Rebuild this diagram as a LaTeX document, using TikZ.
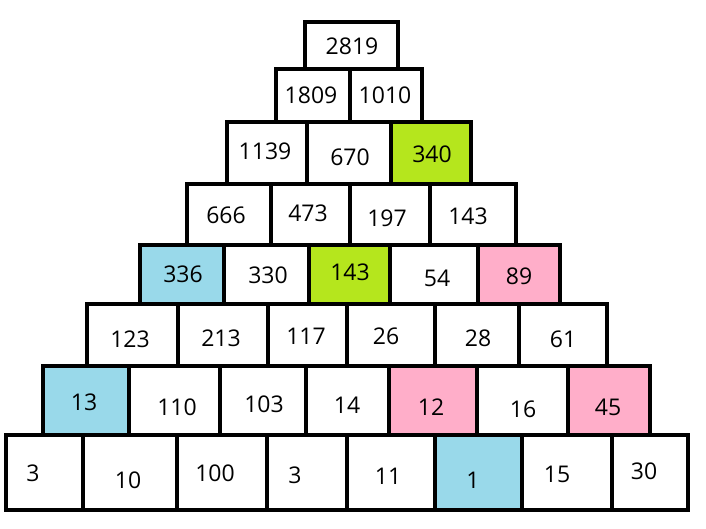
\documentclass[tikz,border=0pt]{standalone}
\usepackage{fontspec}
\setmainfont{Open Sans}
\definecolor{cblue}{HTML}{99D9EA}
\definecolor{cgreen}{HTML}{B5E61D}
\definecolor{cpink}{HTML}{FFAEC9}
\newcommand{\pcell}[8]{%
  \path[cellbox, fill=#6] (#2,#4) rectangle (#3,#5);
  \node[numtext] (#1) at (#8) {#7};
}
\begin{document}
\begin{tikzpicture}[x=1pt,y=-1pt,
  cellbox/.style={draw=black, line width=4.5pt},
  numtext/.style={font=\fontsize{23}{26}\selectfont, inner sep=0pt}]
\useasboundingbox[fill=white] (0,0) rectangle (706,529);
% row 1
\pcell{a1}{305}{398}{22}{69}{white}{2819}{352,46}
% row 2
\pcell{b1}{276}{350}{69}{122}{white}{1809}{311,95}
\pcell{b2}{350}{422}{69}{122}{white}{1010}{385,95}
% row 3
\pcell{c1}{227}{307}{122}{184}{white}{1139}{265,151}
\pcell{c2}{307}{391}{122}{184}{white}{670}{350,157}
\pcell{c3}{391}{471}{122}{184}{cgreen}{340}{432,154}
% row 4
\pcell{d1}{187}{271}{184}{245}{white}{666}{226,215}
\pcell{d2}{271}{350}{184}{245}{white}{473}{308,213}
\pcell{d3}{350}{430}{184}{245}{white}{197}{387,218}
\pcell{d4}{430}{516}{184}{245}{white}{143}{468,216}
% row 5
\pcell{e1}{140}{224}{245}{304}{cblue}{336}{183,274}
\pcell{e2}{224}{309}{245}{304}{white}{330}{268,275}
\pcell{e3}{309}{390}{245}{304}{cgreen}{143}{350,272}
\pcell{e4}{390}{478}{245}{304}{white}{54}{437,278}
\pcell{e5}{478}{560}{245}{304}{cpink}{89}{519,276}
% row 6
\pcell{f1}{87}{178}{304}{366}{white}{123}{130,339}
\pcell{f2}{178}{268}{304}{366}{white}{213}{221,338}
\pcell{f3}{268}{347}{304}{366}{white}{117}{306,336}
\pcell{f4}{347}{435}{304}{366}{white}{26}{386,336}
\pcell{f5}{435}{519}{304}{366}{white}{28}{478,338}
\pcell{f6}{519}{607}{304}{366}{white}{61}{563,339}
% row 7
\pcell{g1}{43}{129}{366}{435}{cblue}{13}{84,402}
\pcell{g2}{129}{220}{366}{435}{white}{110}{177,407}
\pcell{g3}{220}{306}{366}{435}{white}{103}{264,404}
\pcell{g4}{306}{389}{366}{435}{white}{14}{347,405}
\pcell{g5}{389}{477}{366}{435}{cpink}{12}{431,407}
\pcell{g6}{477}{568}{366}{435}{white}{16}{523,409}
\pcell{g7}{568}{650}{366}{435}{cpink}{45}{608,407}
% row 8
\pcell{h1}{6}{83}{435}{510}{white}{3}{33,473}
\pcell{h2}{83}{177}{435}{510}{white}{10}{128,480}
\pcell{h3}{177}{267}{435}{510}{white}{100}{215,473}
\pcell{h4}{267}{347}{435}{510}{white}{3}{295,475}
\pcell{h5}{347}{435}{435}{510}{white}{11}{388,476}
\pcell{h6}{435}{522}{435}{510}{cblue}{1}{473,480}
\pcell{h7}{522}{612}{435}{510}{white}{15}{557,474}
\pcell{h8}{612}{688}{435}{510}{white}{30}{644,471}
\end{tikzpicture}
\end{document}
